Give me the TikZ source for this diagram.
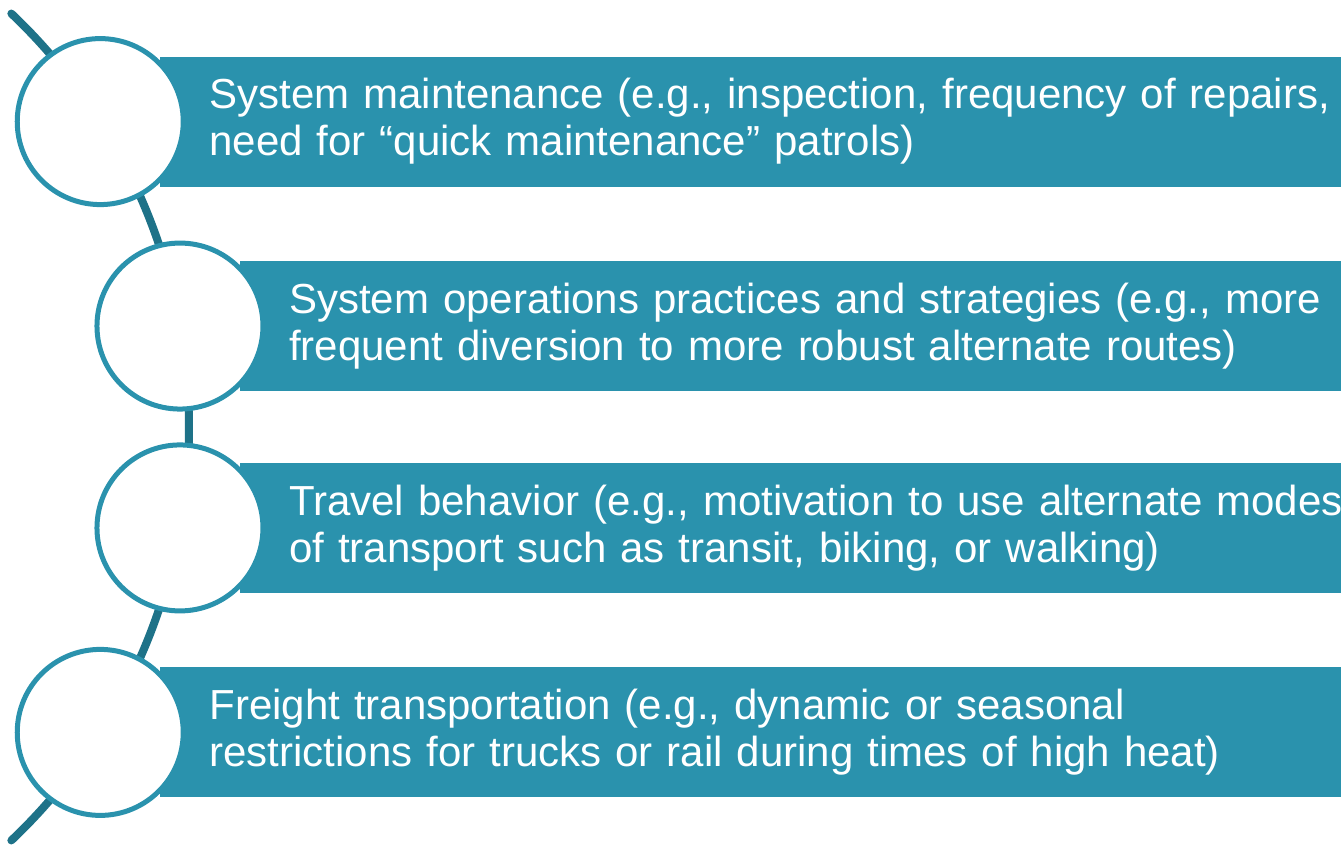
\documentclass[tikz,border=0pt]{standalone}
\usepackage{fontspec}
\setmainfont{Liberation Sans}
\usepackage{tikz}
\usetikzlibrary{backgrounds}

\definecolor{bandblue}{HTML}{2A92AD}
\definecolor{spineblue}{HTML}{1E7288}

\begin{document}
\begin{tikzpicture}[x=1pt, y=1pt, inner sep=0pt]
    \tikzstyle{ring}=[circle, fill=white, draw=bandblue, line width=5pt, minimum size=166pt]
    \tikzstyle{band}=[rectangle, fill=bandblue, anchor=west, text=white, align=left,
        minimum height=130pt, text width=1300pt, inner xsep=49pt,
        font=\fontsize{42}{47}\selectfont]
    \tikzstyle{spine}=[draw=spineblue, line width=8pt, line cap=round]

    \useasboundingbox (0,0) rectangle (1341,846);

    % the rings all sit on one big arc, centred well off to the left
    \coordinate (O) at (-381,419);
    \coordinate (top) at ([shift={(46.5:570)}] O);

    \node[ring] (R1) at ([shift={(32.4:570)}] O) {};
    \node[ring] (R2) at ([shift={(10.2:570)}] O) {};
    \node[ring] (R3) at ([shift={(-10.2:570)}] O) {};
    \node[ring] (R4) at ([shift={(-32.4:570)}] O) {};

    \begin{scope}[on background layer]
        \draw[spine] (top) arc[start angle=46.5, end angle=-46.5, radius=570];

        \node[band] (B1) at ([xshift=60pt] R1.center)
            {System maintenance (e.g., inspection, frequency of repairs,\\need for “quick maintenance” patrols)};
        \node[band] (B2) at ([xshift=60pt] R2.center)
            {System operations practices and strategies (e.g., more\\frequent diversion to more robust alternate routes)};
        \node[band] (B3) at ([xshift=60pt] R3.center)
            {Travel behavior (e.g., motivation to use alternate modes\\of transport such as transit, biking, or walking)};
        \node[band] (B4) at ([xshift=60pt] R4.center)
            {Freight transportation (e.g., dynamic or seasonal\\restrictions for trucks or rail during times of high heat)};
    \end{scope}
\end{tikzpicture}
\end{document}
